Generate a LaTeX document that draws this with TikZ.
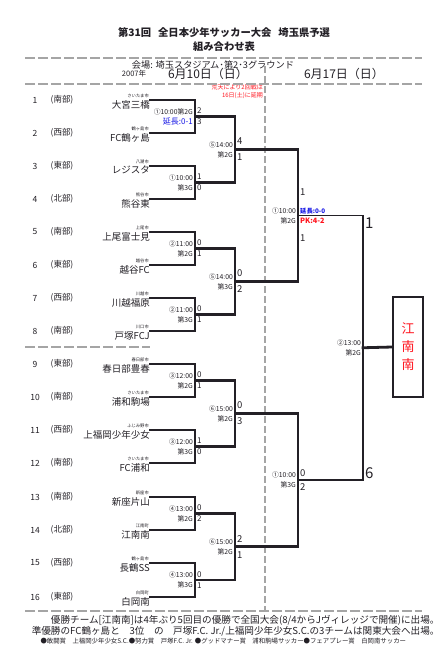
\documentclass[tikz,border=0pt]{standalone}
\usepackage{fontspec}
\setmainfont{Noto Sans CJK JP}
\usetikzlibrary{calc,positioning}
\definecolor{bkInk}{RGB}{35,32,38}
\definecolor{bkDash}{RGB}{165,165,165}
\definecolor{bkRed}{RGB}{255,20,30}
\definecolor{bkBlue}{RGB}{25,25,230}
\newcommand{\bkfs}[2]{\fontsize{#1}{#2}\selectfont}
\newcommand{\matchslot}[3]{%
  \node[slot] (#1lab) at ($(#1)+(-2,0)$) {#2\\#3};
}
\newcommand{\matchscore}[5]{%
  \node[#1,anchor=west] (#2hi) at ($(#2)+(2,-#3)$) {#4};
  \node[#1,anchor=west] (#2lo) at ($(#2)+(2,#3)$) {#5};
}

\begin{document}
\begin{tikzpicture}[x=1pt,y=-1pt,
  lose/.style={draw=bkInk,line width=1.3pt,line cap=rect},
  win/.style={draw=bkInk,line width=2.8pt,line cap=rect},
  sepline/.style={draw=bkDash,line width=1.8pt,dash pattern=on 10pt off 3pt},
  midline/.style={draw=bkDash,line width=1.1pt,dash pattern=on 7pt off 3pt},
  seedno/.style={font=\bkfs{8.5}{10},text=bkInk,inner sep=0pt},
  areaname/.style={font=\bkfs{8.5}{10},text=bkInk,inner sep=0pt},
  teamname/.style={anchor=north east,font=\bkfs{9.5}{11},text=bkInk,inner sep=0pt},
  townname/.style={anchor=south east,font=\bkfs{4.3}{5},text=bkInk,inner sep=0pt},
  slot/.style={anchor=east,align=right,font=\bkfs{6.8}{10},text=bkInk,inner sep=0pt},
  score/.style={font=\bkfs{8}{9},text=bkInk,inner sep=0pt},
  midscore/.style={font=\bkfs{9.5}{10},text=bkInk,inner sep=0pt},
  topscore/.style={font=\bkfs{15}{16},text=bkInk,inner sep=0pt},
  champbox/.style={draw=bkInk,line width=1.5pt,minimum width=30pt,minimum height=100pt,
    text=bkRed,align=center,font=\bkfs{13}{18}}]
  \useasboundingbox[fill=white] (0,0) rectangle (446,656);

  \node[font=\bkfs{10.3}{12}\bfseries,text=bkInk] (title) at (224,33)
    {第31回\hspace{7pt}全日本少年サッカー大会\hspace{7pt}埼玉県予選};
  \node[font=\bkfs{10.3}{12}\bfseries,text=bkInk] (subtitle) at (224,47) {組み合わせ表};
  \node[font=\bkfs{9.2}{10},text=bkInk] (venue) at (213,64.5) {会場: 埼玉スタジアム･第2･3グラウンド};
  \node[font=\bkfs{7.5}{9},text=bkInk] (year) at (134,74) {2007年};
  \node[font=\bkfs{12}{14},text=bkInk] (day1) at (208,74) {6月10日（日）};
  \node[font=\bkfs{12}{14},text=bkInk] (day2) at (344,74) {6月17日（日）};
  \node[anchor=north east,align=right,inner sep=0pt,font=\bkfs{6}{7.5},text=bkRed] (note)
    at (263,84.5) {荒天により2回戦は\\16日(土)に延期};

  \draw[sepline] (25,58) -- (422,58);
  \draw[sepline] (25,84) -- (422,84);
  \draw[midline] (265,66) -- (265,610);
  \draw[sepline] (25,347) -- (150,347);
  \draw[sepline] (25,611) -- (422,611);

  \foreach \n/\y/\ar/\tw/\tm in {
    1/100/南部/さいたま市/大宮三橋,
    2/133/西部/鶴ヶ島市/FC鶴ヶ島,
    3/166/東部/八潮市/レジスタ,
    4/199/北部/熊谷市/熊谷東,
    5/232/南部/上尾市/上尾富士見,
    6/265/東部/越谷市/越谷FC,
    7/298/西部/川越市/川越福原,
    8/331/南部/川口市/戸塚FCJ,
    9/364/東部/春日部市/春日部豊春,
    10/397/南部/さいたま市/浦和駒場,
    11/430/西部/ふじみ野市/上福岡少年少女,
    12/463/南部/さいたま市/FC浦和,
    13/497/南部/新座市/新座片山,
    14/530/北部/江南町/江南南,
    15/563/西部/鶴ヶ島市/長鶴SS,
    16/597/東部/白岡町/白岡南}{
    \node[seedno] (n\n) at (35,\y) {\n};
    \node[areaname] (a\n) at (62,\y) {(\ar)};
    \node[teamname] (t\n) at (150,\y) {\tm};
    \node[townname] (w\n) at (149,\y-1.5) {\tw};
  }

  \coordinate (m1) at (195,116.5);
  \coordinate (m2) at (195,182.5);
  \coordinate (m3) at (195,248.5);
  \coordinate (m4) at (195,314.5);
  \coordinate (m5) at (195,380.5);
  \coordinate (m6) at (195,446.5);
  \coordinate (m7) at (195,513.5);
  \coordinate (m8) at (195,580);
  \coordinate (q1) at (235,149.5);
  \coordinate (q2) at (235,281.5);
  \coordinate (q3) at (235,413.5);
  \coordinate (q4) at (235,546.75);
  \coordinate (s1) at (298,215.5);
  \coordinate (s2) at (298,480);
  \coordinate (f) at (363,347.75);
  \node[champbox] (champ) at (408,347) {江\\南\\南};

  \draw[lose] (t1.north east) -| (m1);
  \draw[lose] (t4.north east) -| (m2);
  \draw[lose] (t5.north east) -| (m3);
  \draw[lose] (t7.north east) -| (m4);
  \draw[lose] (t9.north east) -| (m5);
  \draw[lose] (t12.north east) -| (m6);
  \draw[lose] (t13.north east) -| (m7);
  \draw[lose] (t15.north east) -| (m8);
  \draw[lose] (s1) -| (f);
  \draw[win] (t2.north east) -| (m1);
  \draw[win] (t3.north east) -| (m2);
  \draw[win] (t6.north east) -| (m3);
  \draw[win] (t8.north east) -| (m4);
  \draw[win] (t10.north east) -| (m5);
  \draw[win] (t11.north east) -| (m6);
  \draw[win] (t14.north east) -| (m7);
  \draw[win] (t16.north east) -| (m8);
  \draw[win] (m1) -| (q1);
  \draw[win] (m2) -| (q1);
  \draw[win] (m3) -| (q2);
  \draw[win] (m4) -| (q2);
  \draw[win] (m5) -| (q3);
  \draw[win] (m6) -| (q3);
  \draw[win] (m7) -| (q4);
  \draw[win] (m8) -| (q4);
  \draw[win] (q1) -| (s1);
  \draw[win] (q2) -| (s1);
  \draw[win] (q3) -| (s2);
  \draw[win] (q4) -| (s2);
  \draw[win] (s2) -| (f);
  \draw[win] (f) -- (champ.west);

  \node[slot] (m1lab) at ($(m1)+(-2,0)$)
    {①10:00第2G\\\textcolor{bkBlue}{\bkfs{8}{10}延長:0-1}};
  \matchslot{m2}{①10:00}{第3G}
  \matchslot{m3}{②11:00}{第2G}
  \matchslot{m4}{②11:00}{第3G}
  \matchslot{m5}{③12:00}{第2G}
  \matchslot{m6}{③12:00}{第3G}
  \matchslot{m7}{④13:00}{第2G}
  \matchslot{m8}{④13:00}{第3G}
  \matchslot{q1}{⑤14:00}{第2G}
  \matchslot{q2}{⑤14:00}{第3G}
  \matchslot{q3}{⑥15:00}{第2G}
  \matchslot{q4}{⑥15:00}{第2G}
  \matchslot{s1}{①10:00}{第2G}
  \matchslot{s2}{①10:00}{第3G}
  \matchslot{f}{②13:00}{第2G}

  \matchscore{score}{m1}{5.5}{2}{3}
  \matchscore{score}{m2}{5.5}{1}{0}
  \matchscore{score}{m3}{5.5}{0}{1}
  \matchscore{score}{m4}{5.5}{0}{1}
  \matchscore{score}{m5}{5.5}{0}{1}
  \matchscore{score}{m6}{5.5}{1}{0}
  \matchscore{score}{m7}{5.5}{0}{2}
  \matchscore{score}{m8}{5.5}{0}{1}
  \matchscore{midscore}{q1}{8}{4}{1}
  \matchscore{midscore}{q2}{8}{0}{2}
  \matchscore{midscore}{q3}{8}{0}{3}
  \matchscore{midscore}{q4}{8}{2}{1}
  \matchscore{midscore}{s1}{23}{1}{1}
  \matchscore{midscore}{s2}{7}{0}{2}
  \node[slot,anchor=west,align=left] (s1pk) at ($(s1)+(2,0.5)$)
    {\textcolor{bkBlue}{\bfseries\bkfs{6.3}{10}延長:0-0}\\\textcolor{bkRed}{\bfseries\bkfs{7.3}{10}PK:4-2}};
  \node[topscore,anchor=west] (fhi) at ($(s1)+(67,8)$) {1};
  \node[topscore,anchor=west] (flo) at ($(s2)+(67,-7)$) {6};

  \node[font=\bkfs{9.6}{11},text=bkInk,anchor=east] (foot1) at (443,620)
    {優勝チーム[江南南]は4年ぶり5回目の優勝で全国大会(8/4からJヴィレッジで開催)に出場。};
  \node[font=\bkfs{9.6}{11},text=bkInk,anchor=east] (foot2) at (443,631)
    {準優勝のFC鶴ヶ島と　3位　の　戸塚F.C. Jr./上福岡少年少女S.C.の3チームは関東大会へ出場。};
  \node[font=\bkfs{6.4}{8},text=bkInk,anchor=west] (foot3) at (37,641)
    {●敢闘賞　上福岡少年少女S.C.●努力賞　戸塚F.C. Jr. ●グッドマナー賞　浦和駒場サッカー●フェアプレー賞　白岡南サッカー};
\end{tikzpicture}
\end{document}
